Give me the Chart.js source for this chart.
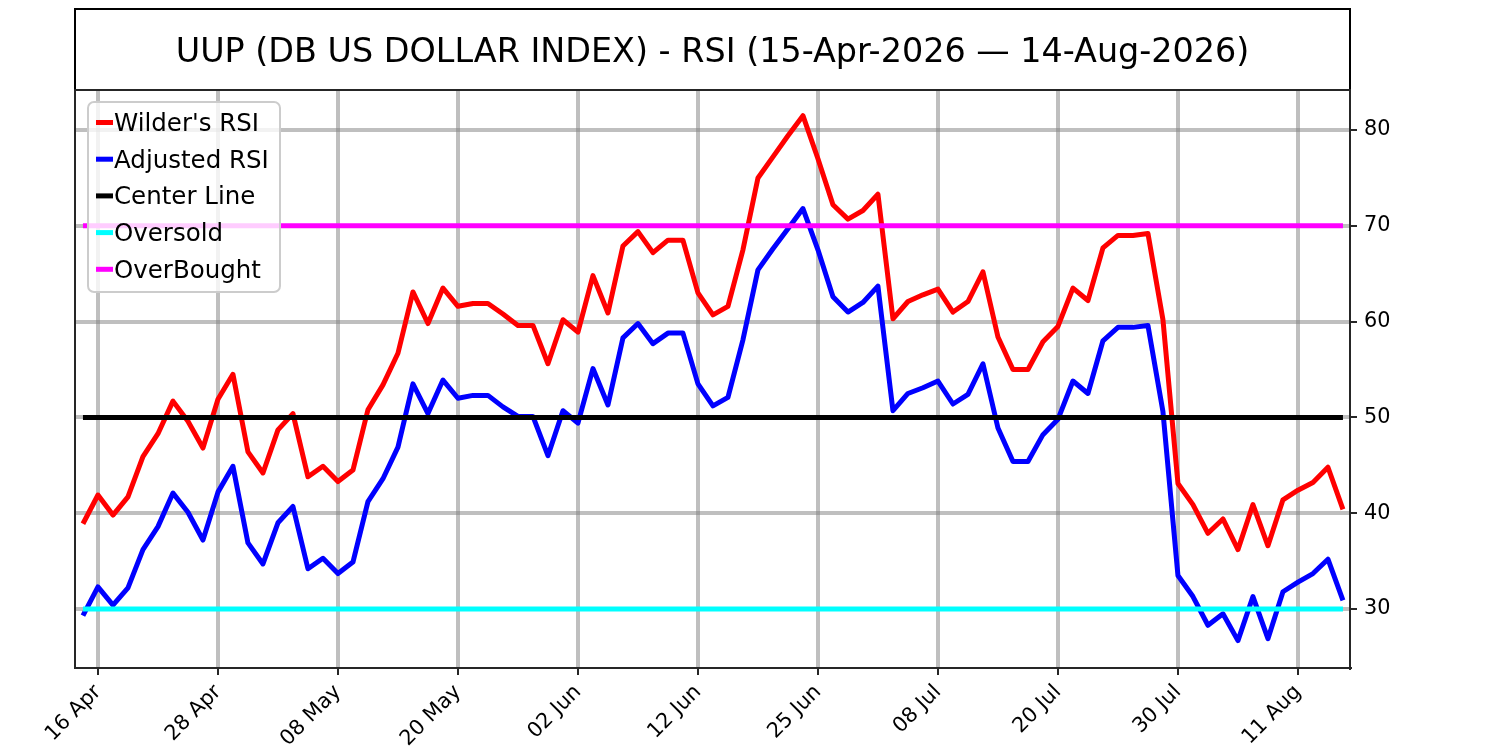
<!DOCTYPE html>
<html>
<head>
<meta charset="utf-8">
<script src="https://cdn.jsdelivr.net/npm/chart.js@4.4.1/dist/chart.umd.min.js"></script>
<style>
  body { margin: 0; background: #ffffff; }
  #rsiChart { display: block; }
</style>
</head>
<body>
<canvas id="rsiChart" width="1500" height="750"></canvas>
<script>
// trading days 15-Apr-2026 .. 14-Aug-2026, index 0..84
const tickIndex = [1, 9, 17, 25, 33, 41, 49, 57, 65, 73, 81];
const tickLabels = ['16 Apr', '28 Apr', '08 May', '20 May', '02 Jun', '12 Jun', '25 Jun', '08 Jul', '20 Jul', '30 Jul', '11 Aug'];

const wilderRsi = [
    38.9, 41.9, 39.8, 41.7, 45.9, 48.3, 51.7, 49.6, 46.8, 51.9,
    54.5, 46.4, 44.2, 48.7, 50.4, 43.8, 44.9, 43.3, 44.5, 50.8,
    53.4, 56.7, 63.1, 59.8, 63.5, 61.6, 61.9, 61.9, 60.8, 59.6,
    59.6, 55.6, 60.2, 58.9, 64.8, 60.9, 67.9, 69.4, 67.2, 68.5,
    68.5, 63.0, 60.7, 61.6, 67.5, 75.0, 77.2, 79.4, 81.5, 77.0,
    72.2, 70.7, 71.6, 73.3, 60.3, 62.1, 62.8, 63.4, 61.0, 62.1,
    65.2, 58.4, 55.0, 55.0, 57.9, 59.5, 63.5, 62.2, 67.7, 69.0,
    69.0, 69.2, 60.2, 43.1, 40.9, 37.9, 39.4, 36.2, 40.9, 36.6,
    41.4, 42.4, 43.2, 44.8, 40.4
];
const adjustedRsi = [
    29.3, 32.3, 30.4, 32.2, 36.2, 38.6, 42.1, 40.1, 37.2, 42.2,
    44.9, 36.9, 34.7, 39.0, 40.7, 34.2, 35.3, 33.7, 34.9, 41.2,
    43.6, 46.9, 53.5, 50.4, 53.9, 52.0, 52.3, 52.3, 51.1, 50.1,
    50.1, 46.0, 50.7, 49.4, 55.1, 51.3, 58.3, 59.8, 57.7, 58.8,
    58.8, 53.5, 51.2, 52.1, 58.1, 65.4, 67.6, 69.7, 71.8, 67.5,
    62.6, 61.0, 62.0, 63.7, 50.7, 52.5, 53.1, 53.8, 51.4, 52.4,
    55.6, 48.9, 45.4, 45.4, 48.2, 49.8, 53.8, 52.5, 58.0, 59.4,
    59.4, 59.6, 50.6, 33.5, 31.3, 28.3, 29.5, 26.7, 31.3, 26.9,
    31.8, 32.8, 33.7, 35.2, 30.9
];
const yTicks = [30, 40, 50, 60, 70, 80];
const centerLevel = 50;
const oversoldLevel = 30;
const overboughtLevel = 70;

const titleText = 'UUP (DB US DOLLAR INDEX) - RSI (15-Apr-2026 \u2014 14-Aug-2026)';
const FONT = '"DejaVu Sans", sans-serif';

const lastIdx = wilderRsi.length - 1;
const toPoints = arr => arr.map((v, i) => ({ x: i, y: v }));
const level = v => [{ x: 0, y: v }, { x: lastIdx, y: v }];

function lineSet(label, data, color, order) {
    return {
        label: label,
        data: data,
        borderColor: color,
        backgroundColor: color,
        borderWidth: 5,
        pointRadius: 0,
        tension: 0,
        borderJoinStyle: 'round',
        order: order // matplotlib style: later series on top
    };
}

// title box above the plot + axes frame
const titleBox = {
    id: 'titleBox',
    afterDraw(chart) {
        const ctx = chart.ctx;
        const a = chart.chartArea;
        ctx.save();
        ctx.strokeStyle = '#000000';
        ctx.lineWidth = 2;
        ctx.strokeRect(a.left, 9, a.right - a.left, a.top - 9);
        ctx.fillStyle = '#000000';
        ctx.font = '33.4px ' + FONT;
        ctx.textAlign = 'center';
        ctx.textBaseline = 'alphabetic';
        ctx.fillText(titleText, (a.left + a.right) / 2, 62);
        ctx.strokeStyle = '#262626';
        ctx.lineWidth = 2;
        ctx.strokeRect(a.left, a.top, a.right - a.left, a.bottom - a.top);
        ctx.restore();
    }
};

// legend drawn inside the plot, top left
const innerLegend = {
    id: 'innerLegend',
    afterDraw(chart) {
        const ctx = chart.ctx;
        const sets = chart.data.datasets;
        ctx.save();
        const x0 = 88, y0 = 102, w = 192, h = 190, r = 6;
        ctx.beginPath();
        ctx.moveTo(x0 + r, y0);
        ctx.arcTo(x0 + w, y0, x0 + w, y0 + h, r);
        ctx.arcTo(x0 + w, y0 + h, x0, y0 + h, r);
        ctx.arcTo(x0, y0 + h, x0, y0, r);
        ctx.arcTo(x0, y0, x0 + w, y0, r);
        ctx.closePath();
        ctx.fillStyle = 'rgba(255,255,255,0.8)';
        ctx.fill();
        ctx.strokeStyle = '#cccccc';
        ctx.lineWidth = 2;
        ctx.stroke();

        ctx.font = '24.5px ' + FONT;
        ctx.textBaseline = 'alphabetic';
        ctx.textAlign = 'left';
        sets.forEach((ds, i) => {
            const cy = 122.5 + i * 36.7;
            ctx.strokeStyle = ds.borderColor;
            ctx.lineWidth = 5;
            ctx.beginPath();
            ctx.moveTo(96, cy);
            ctx.lineTo(113, cy);
            ctx.stroke();
            ctx.fillStyle = '#000000';
            ctx.fillText(ds.label, 114, cy + 8.5);
        });
        ctx.restore();
    }
};

const gridColor = 'rgba(128,128,128,0.5)';

let rsiChart = new Chart(document.getElementById('rsiChart').getContext('2d'), {
    type: 'line',
    data: {
        datasets: [
            lineSet("Wilder's RSI", toPoints(wilderRsi), '#ff0000', 5),
            lineSet('Adjusted RSI', toPoints(adjustedRsi), '#0000ff', 4),
            lineSet('Center Line', level(centerLevel), '#000000', 3),
            lineSet('Oversold', level(oversoldLevel), '#00ffff', 2),
            lineSet('OverBought', level(overboughtLevel), '#ff00ff', 1)
        ]
    },
    options: {
        responsive: false,
        animation: false,
        devicePixelRatio: 1,
        layout: { padding: { left: 75, top: 90, right: 0, bottom: 0 } },
        plugins: {
            legend: { display: false },
            title: { display: false },
            tooltip: { enabled: false }
        },
        scales: {
            x: {
                type: 'linear',
                min: -0.53,
                max: lastIdx + 0.47,
                afterBuildTicks: scale => {
                    scale.ticks = tickIndex.map(v => ({ value: v }));
                },
                afterFit: scale => { scale.height = 82; },
                ticks: {
                    autoSkip: false,
                    minRotation: 45,
                    maxRotation: 45,
                    padding: 5,
                    color: '#000000',
                    font: { family: FONT, size: 20.8 },
                    callback: value => tickLabels[tickIndex.indexOf(value)]
                },
                grid: {
                    color: gridColor,
                    lineWidth: 4,
                    drawTicks: true,
                    tickLength: 7,
                    tickColor: '#262626',
                    tickWidth: 2
                },
                border: { display: true, color: '#262626', width: 2 }
            },
            y: {
                position: 'right',
                min: 23.84,
                max: 84.18,
                afterBuildTicks: scale => {
                    scale.ticks = yTicks.map(v => ({ value: v }));
                },
                afterFit: scale => { scale.width = 150; },
                ticks: {
                    padding: 7,
                    color: '#000000',
                    font: { family: FONT, size: 20.8 }
                },
                grid: {
                    color: gridColor,
                    lineWidth: 4,
                    drawTicks: true,
                    tickLength: 7,
                    tickColor: '#262626',
                    tickWidth: 2
                },
                border: { display: true, color: '#262626', width: 2 }
            }
        }
    },
    plugins: [titleBox, innerLegend]
});
</script>
</body>
</html>
